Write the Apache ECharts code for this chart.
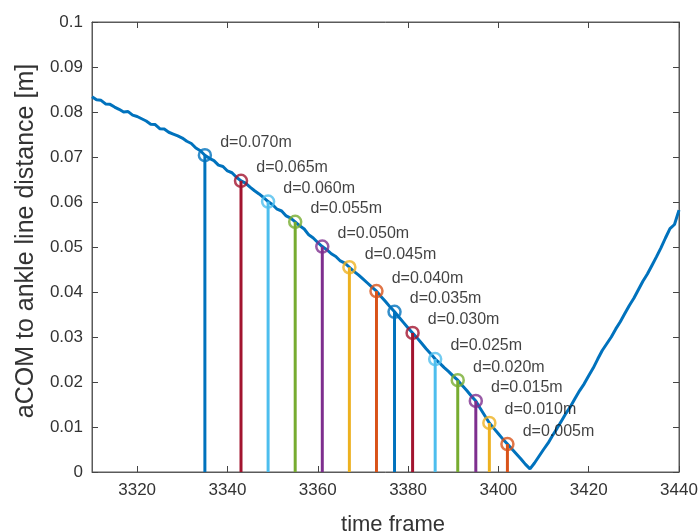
<!DOCTYPE html>
<html>
<head>
<meta charset="utf-8">
<script src="https://cdn.jsdelivr.net/npm/echarts@6/dist/echarts.min.js"></script>
<style>
  html, body { margin: 0; padding: 0; background: #fff; }
  #chart { width: 698px; height: 532px; }
</style>
</head>
<body>
<div id="chart"></div>
<script>
// time frames 3310..3440, one value per frame
const startFrame = 3310
const distance = [
  0.0834, 0.0827, 0.0826, 0.0818, 0.0817, 0.0811, 0.0806, 0.0800, 0.0801, 0.0793,
  0.0790, 0.0785, 0.0780, 0.0773, 0.0772, 0.0763, 0.0762, 0.0755, 0.0751, 0.0747,
  0.0742, 0.0735, 0.0730, 0.0720, 0.0714, 0.0704, 0.0697, 0.0692, 0.0682, 0.0679,
  0.0669, 0.0665, 0.0655, 0.0647, 0.0642, 0.0633, 0.0625, 0.0618, 0.0610, 0.0601,
  0.0594, 0.0584, 0.0580, 0.0569, 0.0564, 0.0556, 0.0547, 0.0540, 0.0527, 0.0520,
  0.0510, 0.0501, 0.0494, 0.0485, 0.0479, 0.0469, 0.0464, 0.0455, 0.0446, 0.0438,
  0.0429, 0.0420, 0.0411, 0.0402, 0.0390, 0.0379, 0.0367, 0.0356, 0.0344, 0.0332,
  0.0320, 0.0309, 0.0298, 0.0286, 0.0274, 0.0263, 0.0251, 0.0242, 0.0232, 0.0223,
  0.0213, 0.0204, 0.0192, 0.0181, 0.0169, 0.0158, 0.0141, 0.0125, 0.0109, 0.0097,
  0.0085, 0.0073, 0.0062, 0.0051, 0.0040, 0.0029, 0.0017, 0.0007, 0.0020, 0.0035,
  0.0050, 0.0064, 0.0081, 0.0097, 0.0114, 0.0131, 0.0146, 0.0164, 0.0181, 0.0196,
  0.0214, 0.0231, 0.0251, 0.0270, 0.0285, 0.0300, 0.0318, 0.0334, 0.0352, 0.0370,
  0.0386, 0.0405, 0.0424, 0.0440, 0.0459, 0.0478, 0.0498, 0.0520, 0.0541, 0.0550,
  0.0582
]

// stems: frame, value at marker, threshold d
const stemFrames = [3335, 3343, 3349, 3355, 3361, 3367, 3373, 3377, 3381, 3386, 3391, 3395, 3398, 3402]
const stemValues = [0.0704, 0.0647, 0.0601, 0.0556, 0.0501, 0.0455, 0.0402, 0.0356, 0.0309, 0.0251, 0.0204, 0.0158, 0.0109, 0.0062]
const dValues = [0.070, 0.065, 0.060, 0.055, 0.050, 0.045, 0.040, 0.035, 0.030, 0.025, 0.020, 0.015, 0.010, 0.005]

const xTicks = [3320, 3340, 3360, 3380, 3400, 3420, 3440]

// matlab default colour order, stems cycle through it backwards
const palette = ['#0072BD', '#D95319', '#EDB120', '#7E2F8E', '#77AC30', '#4DBEEE', '#A2142F']
const stemColor = (i) => palette[(7 - (i % 7)) % 7]

const font = 'Liberation Sans, Arial, sans-serif'
const axisGray = '#5a5a5a'

const curve = distance.map((v, i) => [startFrame + i, v])

const xBase = {
  type: 'value',
  min: 3310,
  max: 3440,
  splitLine: { show: false },
  axisLine: { show: true, onZero: false, lineStyle: { color: axisGray, width: 1 } },
  axisTick: { show: true, inside: true, length: 6, customValues: xTicks, lineStyle: { color: '#444' } }
}
const yBase = {
  type: 'value',
  min: 0,
  max: 0.1,
  interval: 0.01,
  splitLine: { show: false },
  axisLine: { show: true, onZero: false, lineStyle: { color: axisGray, width: 1 } },
  axisTick: { show: true, inside: true, length: 6, lineStyle: { color: '#444' } }
}

const chart = echarts.init(document.getElementById('chart'))
chart.setOption({
  animation: false,
  backgroundColor: '#fff',
  grid: {
    left: 92, right: 19, top: 22, bottom: 60,
    outerBoundsMode: 'none',
    show: true, borderColor: axisGray, borderWidth: 1
  },
  xAxis: [
    {
      ...xBase,
      position: 'bottom',
      name: 'time frame',
      nameLocation: 'middle',
      nameGap: 42,
      nameTextStyle: { fontFamily: font, fontSize: 22, color: '#333', padding: [0, 0, 0, 15] },
      axisLabel: {
        customValues: xTicks,
        formatter: (v) => String(v),
        margin: 10,
        fontFamily: font,
        fontSize: 17,
        color: '#333'
      }
    },
    { ...xBase, position: 'top', axisLabel: { show: false } }
  ],
  yAxis: [
    {
      ...yBase,
      position: 'left',
      name: 'aCOM to ankle line distance [m]',
      nameLocation: 'middle',
      nameGap: 53,
      nameTextStyle: { fontFamily: font, fontSize: 25, color: '#333', padding: [0, 0, 0, 12] },
      axisLabel: { margin: 9, fontFamily: font, fontSize: 17, color: '#333' }
    },
    { ...yBase, position: 'right', axisLabel: { show: false } }
  ],
  series: [
    {
      type: 'line',
      data: curve,
      showSymbol: false,
      lineStyle: { color: '#0072BD', width: 3 },
      z: 2
    },
    {
      // keeps the top and right axes alive so their ticks are drawn
      type: 'line',
      xAxisIndex: 1,
      yAxisIndex: 1,
      data: [],
      silent: true
    },
    {
      type: 'custom',
      data: stemFrames.map((f, i) => [f, stemValues[i]]),
      renderItem: (params, api) => {
        const top = api.coord([api.value(0), api.value(1)])
        const base = api.coord([api.value(0), 0])
        return {
          type: 'line',
          shape: { x1: top[0], y1: top[1], x2: base[0], y2: base[1] },
          style: { stroke: stemColor(params.dataIndex), lineWidth: 3 }
        }
      },
      z: 3
    },
    {
      type: 'scatter',
      symbol: 'circle',
      symbolSize: 12,
      z: 4,
      data: stemFrames.map((f, i) => ({
        value: [f, stemValues[i]],
        itemStyle: { color: 'rgba(0,0,0,0)', borderColor: stemColor(i), borderWidth: 2.5 },
        label: {
          show: true,
          position: 'right',
          distance: 8,
          offset: [0, -13],
          formatter: 'd=' + dValues[i].toFixed(3) + 'm',
          fontFamily: font,
          fontSize: 16,
          color: '#111'
        }
      }))
    }
  ]
})
</script>
</body>
</html>
